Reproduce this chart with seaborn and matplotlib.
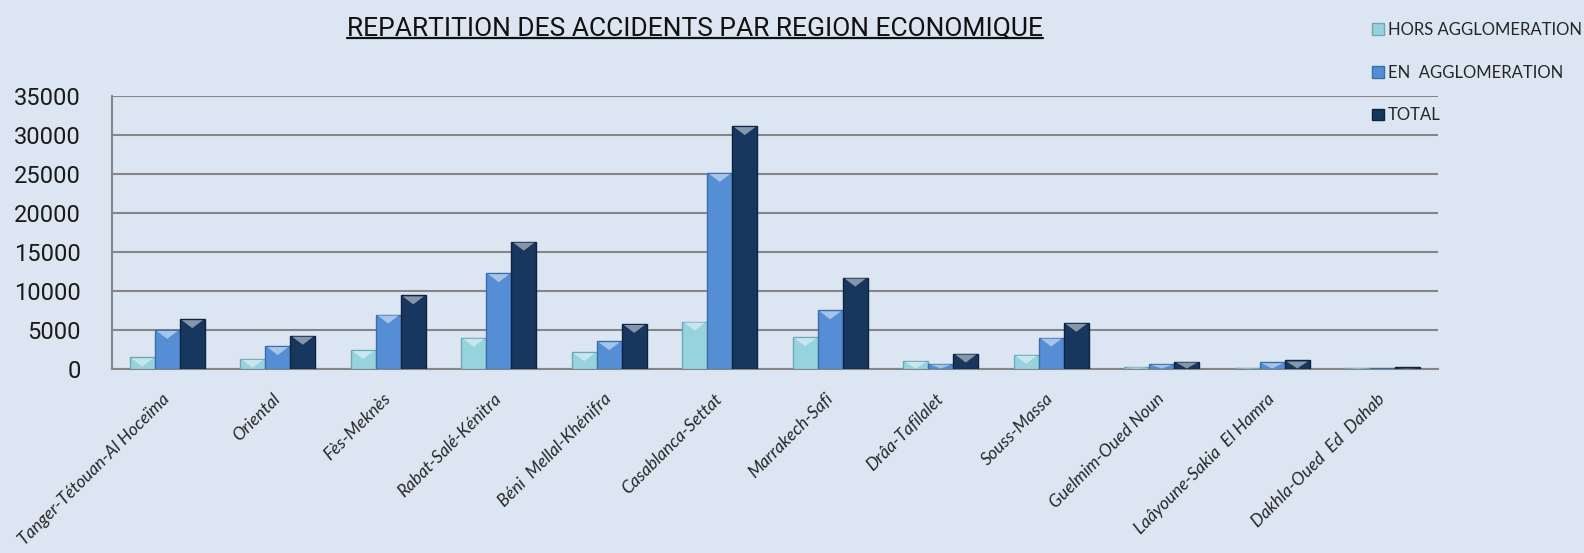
import numpy as np
import pandas as pd
import matplotlib
matplotlib.use("Agg")
import matplotlib.pyplot as plt
from matplotlib.patches import Patch, Polygon
from matplotlib.lines import Line2D
import matplotlib.colors as mcolors
import seaborn as sns

# values
regions = [
    "Tanger-Tétouan-Al Hoceïma", "Oriental", "Fès-Meknès", "Rabat-Salé-Kénitra",
    "Béni  Mellal-Khénifra", "Casablanca-Settat", "Marrakech-Safi", "Drâa-Tafilalet",
    "Souss-Massa", "Guelmim-Oued Noun", "Laâyoune-Sakia  El Hamra", "Dakhla-Oued  Ed  Dahab",
]
hors = [1420, 1240, 2360, 3940, 2100, 6030, 4010, 990, 1760, 250, 80, 40]
en = [4950, 2880, 6930, 12230, 3500, 25090, 7470, 640, 3970, 600, 810, 130]
total = [6330, 4210, 9380, 16280, 5720, 31100, 11670, 1920, 5860, 900, 1030, 180]

series = ["HORS AGGLOMERATION", "EN  AGGLOMERATION", "TOTAL"]
colors = ["#97d3de", "#558ed5", "#17375e"]
edges = ["#6fa8b5", "#3a6ea8", "#0d2340"]
yticks = [0, 5000, 10000, 15000, 20000, 25000, 30000, 35000]

bg = "#dce6f2"
grid_col = "#868686"

df = pd.DataFrame({
    "region": regions * 3,
    "type": [series[0]] * 12 + [series[1]] * 12 + [series[2]] * 12,
    "value": hors + en + total,
})

sns.set_style("white")
plt.rcParams["font.family"] = ["Lato", "DejaVu Sans"]

fig = plt.figure(figsize=(15.84, 5.53), dpi=100, facecolor=bg)
ax = fig.add_axes([0.0707, 0.3336, 0.8371, 0.4933])
ax.set_facecolor(bg)

sns.barplot(data=df, x="region", y="value", hue="type", hue_order=series,
            palette=colors, width=0.68, saturation=1, ax=ax, legend=False,
            linewidth=1)

ax.set_xlim(-0.5, 11.5)
ax.set_ylim(0, 35000)
ax.set_xlabel("")
ax.set_ylabel("")

# edges + bevel highlight on each bar
col_map = {mcolors.to_hex(c): (c, e) for c, e in zip(colors, edges)}
y_zero = ax.transData.transform((0, 0))[1]
px = ax.transData.inverted().transform((0, y_zero + 1))[1]
bars = list(ax.patches)
for p in bars:
    key = mcolors.to_hex(p.get_facecolor())
    if key not in col_map:
        continue
    c, e = col_map[key]
    p.set_edgecolor(e)
    p.set_zorder(3)
    x0, w, h = p.get_x(), p.get_width(), p.get_height()
    if h <= 0:
        continue
    light = tuple(np.array(mcolors.to_rgb(c)) * 0.4 + 0.6)
    d = min(9 * px, h)
    tri = Polygon([(x0 + w * 0.08, h - px), (x0 + w * 0.92, h - px), (x0 + w / 2, h - d)],
                  closed=True, facecolor=light, edgecolor="none", alpha=0.8, zorder=4)
    ax.add_patch(tri)

# grid and spines
ax.set_yticks(yticks)
ax.set_yticklabels([str(v) for v in yticks], fontfamily="Roboto", fontsize=17, color="#1a1a1a")
ax.yaxis.grid(True, color=grid_col, linewidth=1.5, zorder=0)
ax.set_axisbelow(True)
for s in ["top", "right"]:
    ax.spines[s].set_visible(False)
for s in ["left", "bottom"]:
    ax.spines[s].set_color(grid_col)
    ax.spines[s].set_linewidth(1.5)
ax.tick_params(axis="y", length=7, width=1.5, color=grid_col, pad=15.5)

ax.set_xticks(np.arange(12))
ax.set_xticklabels(regions, rotation=45, ha="right", va="center",
                   rotation_mode="anchor", fontsize=12.5, fontstyle="italic")
ax.tick_params(axis="x", which="major", length=0, pad=20)
ax.set_xticks(np.arange(-0.5, 12, 1), minor=True)
ax.tick_params(axis="x", which="minor", length=4, width=1.5, color=grid_col)

# legend
handles = [Patch(facecolor=c, edgecolor=e, linewidth=1) for c, e in zip(colors, edges)]
fig.legend(handles, series, loc="upper left", bbox_to_anchor=(0.862, 0.972),
           frameon=False, fontsize=12, handlelength=0.7, handleheight=0.7,
           handletextpad=0.25, labelspacing=1.6, borderaxespad=0)

# underlined title
title = fig.text(0.439, 0.9367, "REPARTITION DES ACCIDENTS PAR REGION ECONOMIQUE",
                 ha="center", va="baseline", fontsize=19,
                 family=["Roboto", "DejaVu Sans"], color="#111111")
fig.canvas.draw()
bb = title.get_window_extent(fig.canvas.get_renderer())
(fx0, fy0), (fx1, _) = fig.transFigure.inverted().transform([(bb.x0, bb.y0), (bb.x1, bb.y1)])
fig.add_artist(Line2D([fx0, fx1], [0.931, 0.931], transform=fig.transFigure,
                      color="#111111", linewidth=1.6))

fig.savefig("out.png", dpi=100, facecolor=bg)
